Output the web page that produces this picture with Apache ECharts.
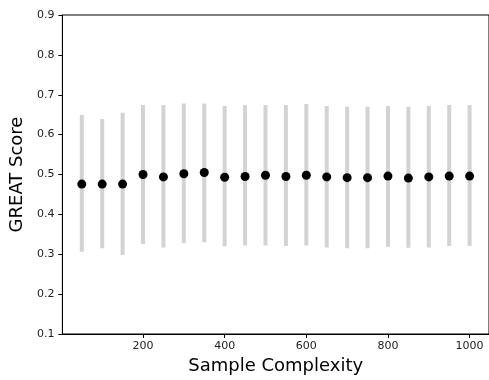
<!DOCTYPE html>
<html><head><meta charset="utf-8">
<script src="https://cdn.jsdelivr.net/npm/echarts@6/dist/echarts.min.js"></script>
<style>html,body{margin:0;padding:0;background:#fff}#c{width:489px;height:380px}</style>
</head><body><div id="c"></div>
<script>
const sampleSizes = [50,100,150,200,250,300,350,400,450,500,550,600,650,700,750,800,850,900,950,1000];
const meanScores = [0.476,0.476,0.476,0.500,0.494,0.502,0.505,0.493,0.495,0.498,0.495,0.498,0.494,0.492,0.492,0.496,0.491,0.494,0.496,0.496];
const upperScores = [0.649,0.639,0.655,0.674,0.674,0.678,0.678,0.672,0.674,0.674,0.674,0.677,0.672,0.670,0.670,0.672,0.670,0.672,0.674,0.674];
const lowerScores = [0.306,0.315,0.298,0.326,0.317,0.328,0.330,0.320,0.322,0.322,0.321,0.322,0.317,0.315,0.315,0.319,0.316,0.317,0.321,0.321];
const xTicks = [200,400,600,800,1000];
const yTicks = [0.1,0.2,0.3,0.4,0.5,0.6,0.7,0.8,0.9];

const chart = echarts.init(document.getElementById('c'));
const font = 'DejaVu Sans';
chart.setOption({
  animation: false,
  grid: {left: 62, right: -5, top: 15, bottom: 46, show: true, borderColor: '#000', borderWidth: 1, containLabel: false},
  xAxis: {
    type: 'value', min: 2.5, max: 1047.5,
    name: 'Sample Complexity', nameLocation: 'middle', nameGap: 16,
    nameTextStyle: {fontFamily: font, fontSize: 18, color: '#000'},
    axisLine: {show: true, lineStyle: {color: '#000', width: 1}},
    axisTick: {show: true, customValues: xTicks, length: 4, lineStyle: {color: '#000'}},
    axisLabel: {customValues: xTicks, fontFamily: font, fontSize: 11, color: '#222', margin: 7, formatter: v => String(v)},
    splitLine: {show: false}
  },
  yAxis: {
    type: 'value', min: 0.1, max: 0.9, interval: 0.1,
    name: 'GREAT Score', nameLocation: 'middle', nameGap: 35,
    nameTextStyle: {fontFamily: font, fontSize: 18, color: '#000'},
    axisLine: {show: true, lineStyle: {color: '#000', width: 1}},
    axisTick: {show: true, length: 4, lineStyle: {color: '#000'}},
    axisLabel: {fontFamily: font, fontSize: 11, color: '#222', margin: 8, formatter: v => (Math.round(v*10)/10).toFixed(1)},
    splitLine: {show: false}
  },
  series: [
    {
      type: 'custom',
      data: sampleSizes.map((x, i) => [x, lowerScores[i], upperScores[i]]),
      renderItem: function (params, api) {
        const lo = api.coord([api.value(0), api.value(1)]);
        const hi = api.coord([api.value(0), api.value(2)]);
        return {type: 'rect', shape: {x: lo[0] - 2, y: hi[1], width: 4, height: lo[1] - hi[1]}, style: {fill: '#d3d3d3'}};
      },
      z: 1
    },
    {
      type: 'scatter',
      data: sampleSizes.map((x, i) => [x, meanScores[i]]),
      symbol: 'circle', symbolSize: 9,
      itemStyle: {color: '#000', opacity: 1},
      z: 2
    }
  ]
});
</script></body></html>
